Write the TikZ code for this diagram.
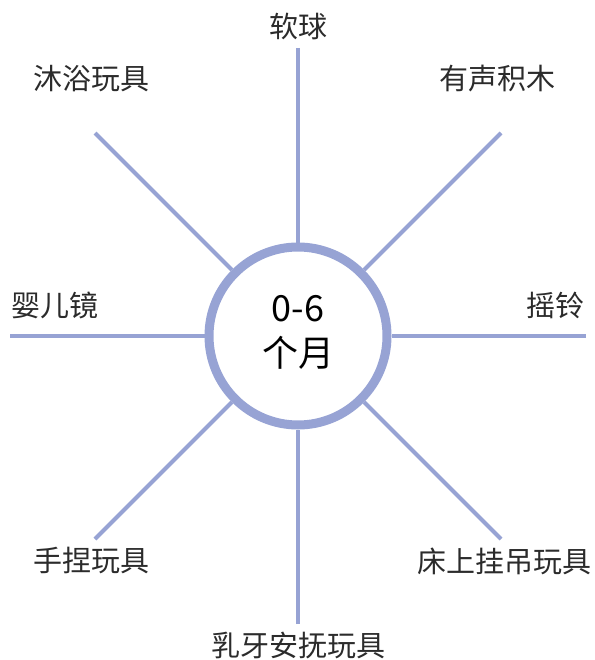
\documentclass[tikz,border=0pt]{standalone}
\usepackage{fontspec}
\setmainfont{Noto Sans CJK SC}
\definecolor{spokeblue}{HTML}{97A3D4}
\definecolor{textgray}{HTML}{2B2B2B}
\begin{document}
\begin{tikzpicture}[x=1pt,y=-1pt,
  spoke/.style={draw=spokeblue,line width=4pt},
  toy/.style={font=\fontsize{29}{34}\selectfont,text=textgray,inner sep=0pt}]
\useasboundingbox (0,0) rectangle (594,660);

% centre
\node[circle,draw=spokeblue,line width=9pt,fill=white,minimum size=178pt,inner sep=0pt] (age) at (298,336) {};
\node[align=center,inner sep=0pt,text=black,font=\fontsize{36}{45}\selectfont] (agetext) at (298,332) {0-6\\个月};

% spoke ends
\coordinate (n) at (298,48);
\coordinate (ne) at (501,133);
\coordinate (e) at (586,336);
\coordinate (se) at (501,539);
\coordinate (s) at (298,624);
\coordinate (sw) at (95,539);
\coordinate (w) at (10,336);
\coordinate (nw) at (95,133);

\draw[spoke] (n) -- (age);
\draw[spoke] (ne) -- (age);
\draw[spoke] (e) -- (age);
\draw[spoke] (se) -- (age);
\draw[spoke] (s) -- (age);
\draw[spoke] (sw) -- (age);
\draw[spoke] (w) -- (age);
\draw[spoke] (nw) -- (age);

% toys
\node[toy] (ball) at (298,26) {软球};
\node[toy] (blocks) at (497,79) {有声积木};
\node[toy] (rattle) at (555,305) {摇铃};
\node[toy] (mobile) at (504,561) {床上挂吊玩具};
\node[toy] (teether) at (298,645) {乳牙安抚玩具};
\node[toy] (squeeze) at (91,561) {手捏玩具};
\node[toy] (mirror) at (55,305) {婴儿镜};
\node[toy] (bath) at (91,79) {沐浴玩具};

\end{tikzpicture}
\end{document}
